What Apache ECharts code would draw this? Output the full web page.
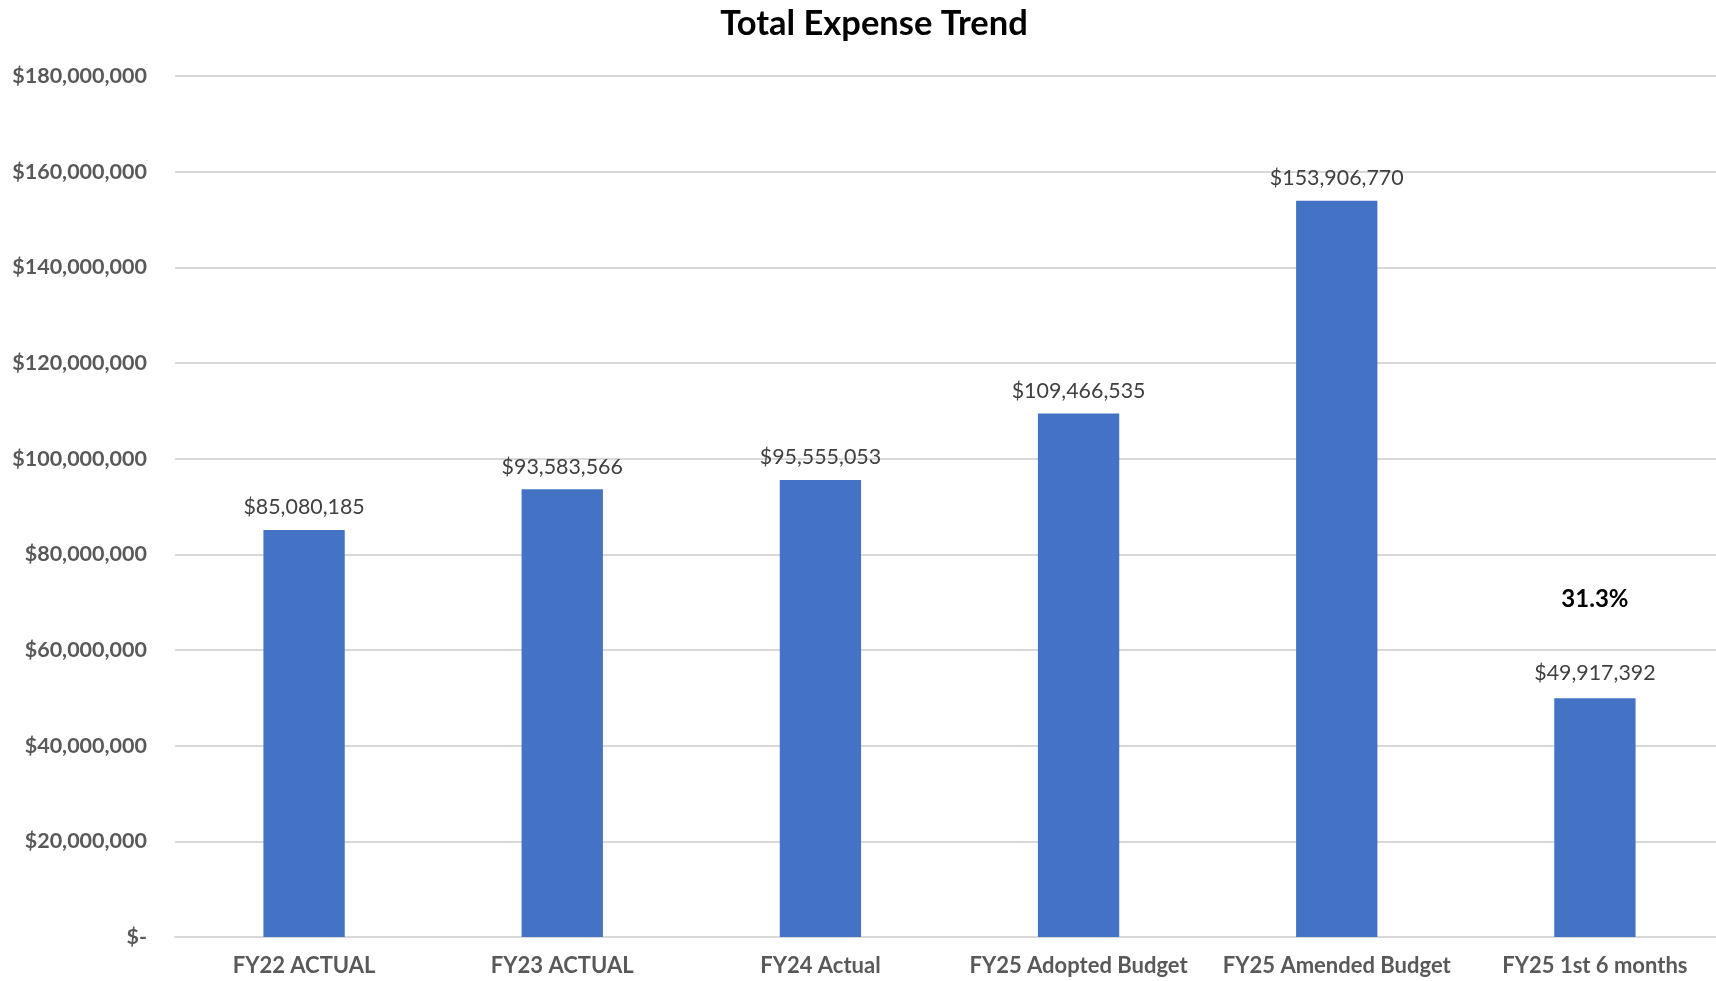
<!DOCTYPE html>
<html>
<head>
<meta charset="utf-8">
<style>
  html, body { margin: 0; padding: 0; background: #ffffff; }
  #chart { width: 1716px; height: 981px; }
</style>
<script src="https://cdn.jsdelivr.net/npm/echarts@6/dist/echarts.min.js"></script>
</head>
<body>
<div id="chart"></div>
<script>
// Total expense by fiscal period
const categories = ['FY22 ACTUAL', 'FY23 ACTUAL', 'FY24 Actual', 'FY25 Adopted Budget', 'FY25 Amended Budget', 'FY25 1st 6 months'];
const expenses = [85080185, 93583566, 95555053, 109466535, 153906770, 49917392];
// Extra note shown above a bar (empty where none)
const notes = ['', '', '', '', '', '31.3%'];
const yTicks = { min: 0, max: 180000000, interval: 20000000 };

const FONT = 'Lato, "Open Sans", sans-serif';

function money(v) {
  return '$' + Math.round(v).toLocaleString('en-US');
}

const chart = echarts.init(document.getElementById('chart'), null, { renderer: 'canvas' });

chart.setOption({
  backgroundColor: '#ffffff',
  animation: false,
  title: {
    text: 'Total Expense Trend',
    left: 869,
    textAlign: 'center',
    top: 1,
    textStyle: { fontFamily: FONT, fontWeight: 'bold', fontSize: 34.5, color: '#000000' }
  },
  // plot area runs slightly past the right edge of the canvas
  grid: { left: 175, width: 1549, top: 76, bottom: 44, containLabel: false, outerBoundsMode: 'none' },
  xAxis: {
    type: 'category',
    data: categories,
    axisLine: { show: true, lineStyle: { color: '#d9d9d9', width: 2 } },
    axisTick: { show: false },
    axisLabel: {
      interval: 0,
      margin: 18,
      fontFamily: FONT,
      fontWeight: 'bold',
      fontSize: 22,
      color: '#595959'
    }
  },
  yAxis: {
    type: 'value',
    min: yTicks.min,
    max: yTicks.max,
    interval: yTicks.interval,
    axisLine: { show: false },
    axisTick: { show: false },
    splitLine: { lineStyle: { color: '#d9d9d9', width: 2 } },
    axisLabel: {
      margin: 28,
      fontFamily: FONT,
      fontWeight: 'bold',
      fontSize: 21.5,
      color: '#595959',
      formatter: v => v === 0 ? '$-' : money(v)
    }
  },
  series: [{
    type: 'bar',
    data: expenses.map((v, i) => ({
      value: v,
      label: notes[i] ? {
        formatter: '{n|' + notes[i] + '}\n{v|' + money(v) + '}',
        rich: {
          n: { fontFamily: FONT, fontWeight: 'bold', fontSize: 24, color: '#000000', lineHeight: 122, align: 'center' },
          v: { fontFamily: FONT, fontSize: 21.4, color: '#404040', lineHeight: 26, align: 'center' }
        }
      } : undefined
    })),
    barWidth: '31.5%',
    itemStyle: { color: '#4472c4' },
    label: {
      show: true,
      position: 'top',
      distance: 12,
      fontFamily: FONT,
      fontSize: 21.4,
      color: '#404040',
      formatter: p => money(p.value)
    }
  }]
});
</script>
</body>
</html>
